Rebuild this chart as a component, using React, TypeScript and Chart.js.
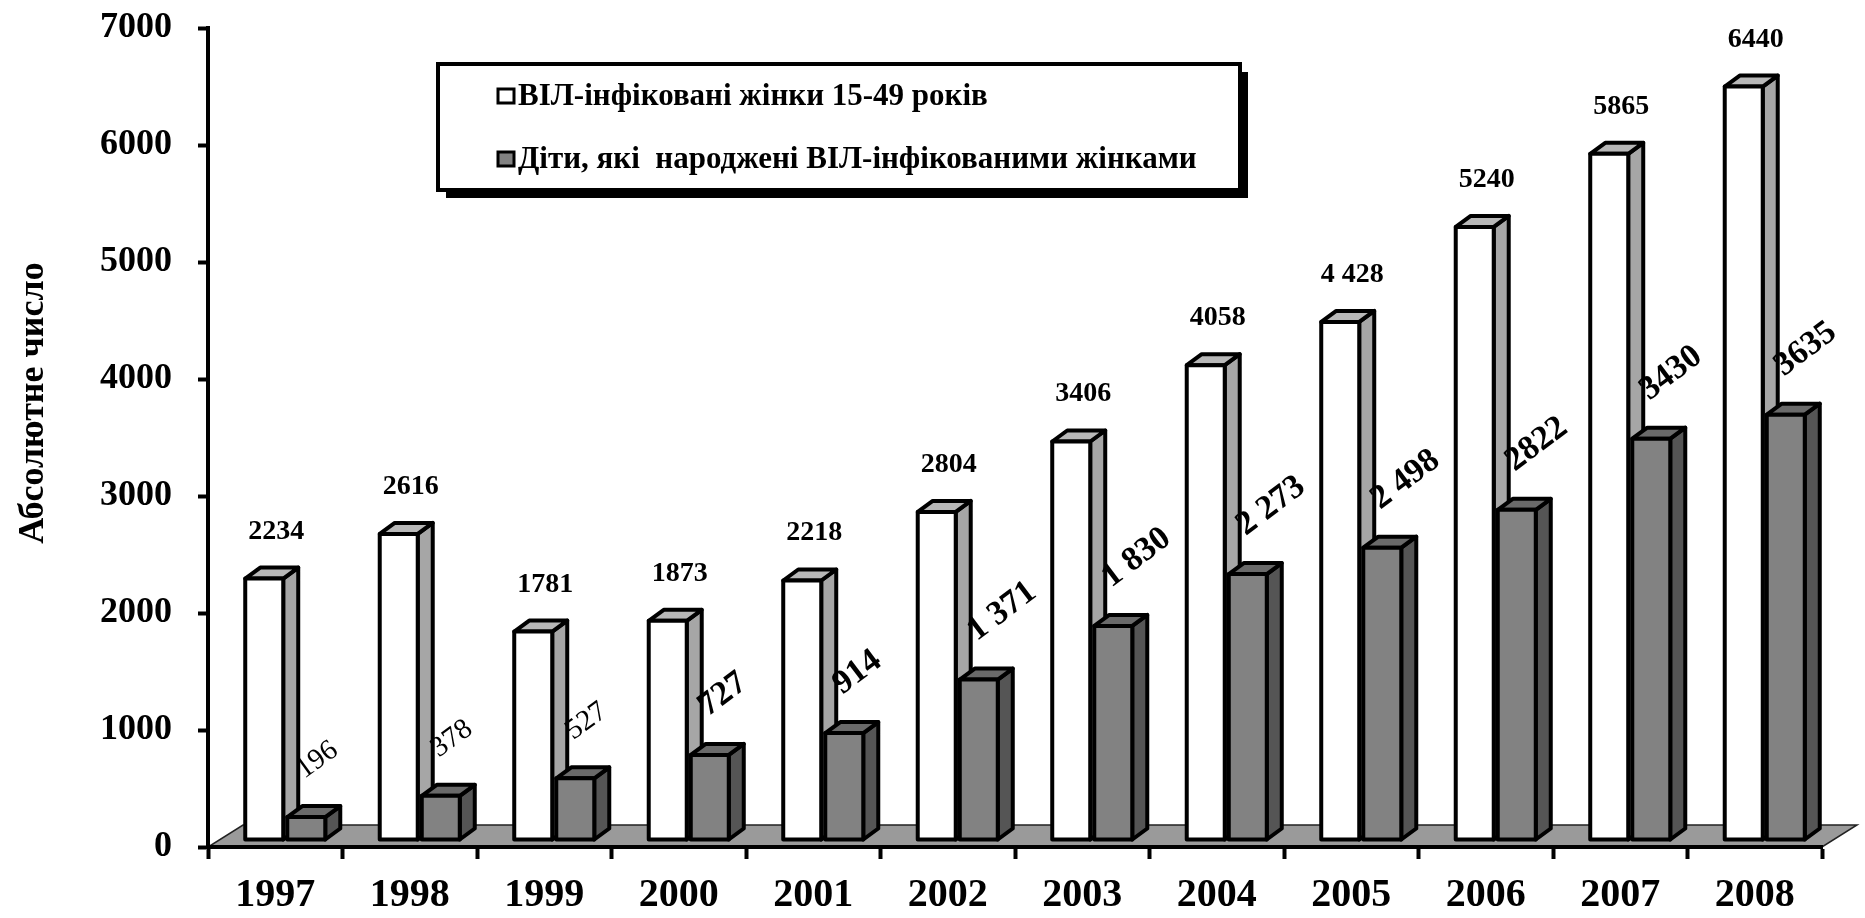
import React, { useEffect, useRef } from 'react';
import { Chart, registerables } from 'chart.js';

Chart.register(...registerables);

const years = ['1997', '1998', '1999', '2000', '2001', '2002', '2003', '2004', '2005', '2006', '2007', '2008'];
const women = [2234, 2616, 1781, 1873, 2218, 2804, 3406, 4058, 4428, 5240, 5865, 6440];
const children = [196, 378, 527, 727, 914, 1371, 1830, 2273, 2498, 2822, 3430, 3635];
const womenLabels = ['2234', '2616', '1781', '1873', '2218', '2804', '3406', '4058', '4 428', '5240', '5865', '6440'];
const childrenLabels = ['196', '378', '527', '727', '914', '1 371', '1 830', '2 273', '2 498', '2822', '3430', '3635'];
const childrenLabelBold = [false, false, false, true, true, true, true, true, true, true, true, true];
const seriesNames = ['ВІЛ-інфіковані жінки 15-49 років', 'Діти, які  народжені ВІЛ-інфікованими жінками'];
const yTitle = 'Абсолютне число';
const yTicks = { min: 0, max: 7000, step: 1000 };

const FONT = '"Liberation Serif", "Times New Roman", serif';

const faceColors = [
  { front: '#ffffff', side: '#a6a6a6', top: '#b8b8b8' },
  { front: '#828282', side: '#555555', top: '#6a6a6a' },
];

const threeD = {
  id: 'threeD',
  beforeDraw(chart: any) {
    const { ctx, chartArea } = chart;
    const fx = 35, fy = -22;
    ctx.save();
    ctx.beginPath();
    ctx.moveTo(chartArea.left, chartArea.bottom);
    ctx.lineTo(chartArea.right, chartArea.bottom);
    ctx.lineTo(chartArea.right + fx, chartArea.bottom + fy);
    ctx.lineTo(chartArea.left + fx, chartArea.bottom + fy);
    ctx.closePath();
    ctx.fillStyle = '#9a9a9a';
    ctx.fill();
    ctx.lineWidth = 1.5;
    ctx.strokeStyle = '#222';
    ctx.stroke();
    ctx.restore();
  },
  beforeDatasetDraw() {
    return false;
  },
  afterDatasetsDraw(chart: any) {
    const { ctx } = chart;
    const SX = 10, SY = -7, DX = 15, DY = -11;
    const n = chart.data.labels.length;
    ctx.save();
    ctx.lineJoin = 'round';
    ctx.lineWidth = 4;
    ctx.strokeStyle = '#000';
    const poly = (pts: number[][], fill: string) => {
      ctx.beginPath();
      ctx.moveTo(pts[0][0], pts[0][1]);
      for (let k = 1; k < pts.length; k++) ctx.lineTo(pts[k][0], pts[k][1]);
      ctx.closePath();
      ctx.fillStyle = fill;
      ctx.fill();
      ctx.stroke();
    };
    const geo: any[][] = [[], []];
    for (let i = 0; i < n; i++) {
      for (let d = 0; d < 2; d++) {
        const el = chart.getDatasetMeta(d).data[i];
        const p = el.getProps(['x', 'y', 'base', 'width'], true);
        const x0 = p.x - p.width / 2 + SX;
        const x1 = p.x + p.width / 2 + SX;
        const yt = p.y + SY;
        const yb = p.base + SY;
        geo[d][i] = { x0, x1, yt, yb };
        const c = faceColors[d];
        poly([[x1, yt], [x1 + DX, yt + DY], [x1 + DX, yb + DY], [x1, yb]], c.side);
        poly([[x0, yt], [x0 + DX, yt + DY], [x1 + DX, yt + DY], [x1, yt]], c.top);
        poly([[x0, yt], [x1, yt], [x1, yb], [x0, yb]], c.front);
      }
    }
    ctx.fillStyle = '#000';
    for (let i = 0; i < n; i++) {
      const g = geo[0][i];
      ctx.font = `bold 28px ${FONT}`;
      ctx.textAlign = 'center';
      ctx.textBaseline = 'alphabetic';
      ctx.fillText(womenLabels[i], (g.x0 + g.x1) / 2 + 12, g.yt - 40);
      const h = geo[1][i];
      const bold = childrenLabelBold[i];
      ctx.save();
      ctx.translate((h.x0 + h.x1) / 2 - 2, h.yt - 38);
      ctx.rotate(((bold ? -37 : -36) * Math.PI) / 180);
      ctx.font = `${bold ? 'bold 34px' : '29px'} ${FONT}`;
      ctx.textAlign = 'left';
      ctx.fillText(childrenLabels[i], 0, 0);
      ctx.restore();
    }
    ctx.restore();
  },
  afterDraw(chart: any) {
    const { ctx } = chart;
    ctx.save();
    ctx.save();
    ctx.translate(43, 403);
    ctx.rotate(-Math.PI / 2);
    ctx.font = `bold 36px ${FONT}`;
    ctx.fillStyle = '#000';
    ctx.textAlign = 'center';
    ctx.textBaseline = 'alphabetic';
    ctx.fillText(yTitle, 0, 0);
    ctx.restore();
    const L = 438, T = 64, R = 1240, B = 190;
    ctx.fillStyle = '#000';
    ctx.fillRect(L + 8, T + 8, R - L, B - T);
    ctx.fillStyle = '#fff';
    ctx.fillRect(L, T, R - L, B - T);
    ctx.lineWidth = 4;
    ctx.strokeStyle = '#000';
    ctx.strokeRect(L, T, R - L, B - T);
    const rows = [105, 168];
    chart.data.datasets.forEach((ds: any, k: number) => {
      const base = rows[k];
      ctx.fillStyle = ds.backgroundColor;
      ctx.lineWidth = 3;
      ctx.fillRect(498, base - 16, 16, 14);
      ctx.strokeRect(498, base - 16, 16, 14);
      ctx.fillStyle = '#000';
      ctx.font = `bold 31px ${FONT}`;
      ctx.textAlign = 'left';
      ctx.textBaseline = 'alphabetic';
      ctx.fillText(ds.label, 518, base);
    });
    ctx.restore();
  },
};

export default function App() {
  const ref = useRef<HTMLCanvasElement>(null);
  useEffect(() => {
    const canvas = ref.current!;
    const chart = new Chart(canvas, {
      type: 'bar',
      data: {
        labels: years,
        datasets: [
          { label: seriesNames[0], data: women, backgroundColor: faceColors[0].front },
          { label: seriesNames[1], data: children, backgroundColor: faceColors[1].front },
        ],
      },
      options: {
        animation: false,
        responsive: false,
        devicePixelRatio: 1,
        layout: { padding: { top: 28, right: 43, left: 0, bottom: 0 } },
        datasets: { bar: { categoryPercentage: 0.625, barPercentage: 0.904 } },
        plugins: { legend: { display: false }, tooltip: { enabled: false } },
        scales: {
          x: {
            grid: { display: true, drawOnChartArea: false, drawTicks: true, tickLength: 12, tickWidth: 4, tickColor: '#000', offset: true },
            border: { display: true, color: '#000', width: 4 },
            ticks: { font: { family: FONT, size: 40, weight: 'bold' }, color: '#000', padding: 13, maxRotation: 0, autoSkip: false },
            afterFit: (s: any) => { s.height = 71; },
          },
          y: {
            min: yTicks.min,
            max: yTicks.max,
            grid: { display: true, drawOnChartArea: false, drawTicks: true, tickLength: 10, tickWidth: 4, tickColor: '#000' },
            border: { display: true, color: '#000', width: 4 },
            ticks: {
              stepSize: yTicks.step,
              font: { family: FONT, size: 36, weight: 'bold', lineHeight: 0.1 },
              color: '#000',
              padding: 26,
              callback: (v: any) => String(v),
            },
            afterFit: (s: any) => { s.width = 208; },
          },
        },
      } as any,
      plugins: [threeD],
    });
    return () => chart.destroy();
  }, []);
  return (
    <div style={{ position: 'fixed', left: 0, top: 0, width: 1865, height: 918, background: '#fff' }}>
      <canvas ref={ref} width={1865} height={918} style={{ width: '1865px', height: '918px', display: 'block' }} />
    </div>
  );
}
